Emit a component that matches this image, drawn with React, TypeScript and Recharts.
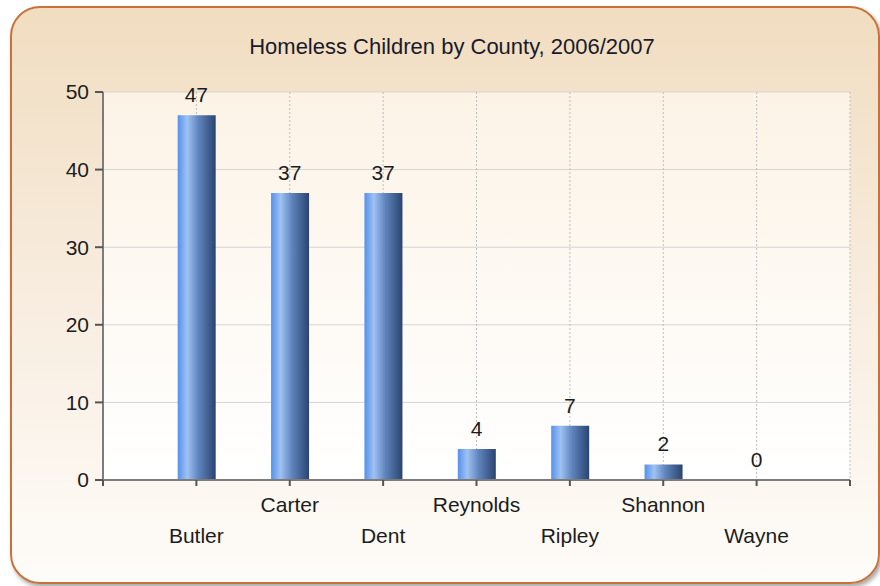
import React from "react";
import { ComposedChart, Bar, Line, XAxis, YAxis, CartesianGrid, LabelList } from "recharts";

const counties = ["Butler", "Carter", "Dent", "Reynolds", "Ripley", "Shannon", "Wayne"];
const children = [47, 37, 37, 4, 7, 2, 0];
const yTicks = [0, 10, 20, 30, 40, 50];
const xTicks = [0, 1, 2, 3, 4, 5, 6, 7, 8];

const data = counties.map((name, i) => ({ pos: i + 1, name, value: children[i] }));

const FONT = "'Liberation Sans', Arial, sans-serif";

function CountyTick(props: any) {
  const { x, y, payload } = props;
  const idx = payload.value - 1;
  if (idx < 0 || idx >= counties.length) return null;
  // staggered labels: first, third, ... on the lower row
  const dy = idx % 2 === 0 ? 55 : 24;
  return (
    <text x={x} y={y + dy} textAnchor="middle" fontSize={21} fontFamily={FONT} fill="#1c1c1c">
      {counties[idx]}
    </text>
  );
}

// value labels hang off an invisible line so the zero bar gets one too
function ValueLabel(props: any) {
  const { x, y, value } = props;
  return (
    <text x={x} y={y - 13} textAnchor="middle" fontSize={21} fontFamily={FONT} fill="#1c1c1c">
      {value}
    </text>
  );
}

export default function App() {
  return (
    <div style={{ position: "absolute", left: 0, top: 0, width: 880, height: 586, overflow: "hidden", background: "#fff" }}>
      <div
        style={{
          position: "absolute",
          left: 10,
          top: 6,
          width: 866,
          height: 574,
          border: "2px solid #c8723a",
          borderRadius: 30,
          background: "linear-gradient(to bottom, #f1ddc0 0%, #f7ebdc 45%, #fefcf9 100%)",
          boxShadow: "2px 3px 4px rgba(0,0,0,0.35)",
        }}
      />
      <div
        style={{
          position: "absolute",
          left: 0,
          top: 34,
          width: 904,
          textAlign: "center",
          fontFamily: FONT,
          fontSize: 22,
          lineHeight: "26px",
          color: "#1a1a2a",
        }}
      >
        Homeless Children by County, 2006/2007
      </div>
      <div style={{ position: "absolute", left: 0, top: 0 }}>
        <ComposedChart width={880} height={586} data={data} margin={{ top: 92, right: 30, bottom: 76, left: 43 }}>
          <defs>
            <linearGradient id="plotBg" x1="0" y1="0" x2="0" y2="1">
              <stop offset="0%" stopColor="#fcf3e6" />
              <stop offset="100%" stopColor="#ffffff" />
            </linearGradient>
            <linearGradient id="barFill" x1="0" y1="0" x2="1" y2="0">
              <stop offset="0%" stopColor="#5591ec" />
              <stop offset="25%" stopColor="#9fc2f3" />
              <stop offset="55%" stopColor="#5f84bd" />
              <stop offset="100%" stopColor="#2a4470" />
            </linearGradient>
          </defs>
          <CartesianGrid vertical={false} stroke="#d4d4d4" fill="url(#plotBg)" />
          <CartesianGrid horizontal={false} stroke="#bdbdbd" strokeDasharray="2 2" />
          <XAxis
            dataKey="pos"
            type="number"
            domain={[0, 8]}
            ticks={xTicks}
            interval={0}
            tickSize={6}
            height={30}
            tick={<CountyTick />}
            axisLine={{ stroke: "#7c7c7c", strokeWidth: 2 }}
            tickLine={{ stroke: "#555", strokeWidth: 2 }}
          />
          <YAxis
            width={60}
            domain={[0, 50]}
            ticks={yTicks}
            tickSize={8}
            tickMargin={6}
            axisLine={{ stroke: "#7c7c7c", strokeWidth: 2 }}
            tickLine={{ stroke: "#555", strokeWidth: 2 }}
            tick={{ fontSize: 21, fontFamily: FONT, fill: "#1c1c1c" }}
          />
          <Bar dataKey="value" fill="url(#barFill)" barSize={38} isAnimationActive={false} />
          <Line dataKey="value" stroke="none" dot={false} activeDot={false} legendType="none" isAnimationActive={false}>
            <LabelList dataKey="value" content={<ValueLabel />} />
          </Line>
        </ComposedChart>
      </div>
    </div>
  );
}
